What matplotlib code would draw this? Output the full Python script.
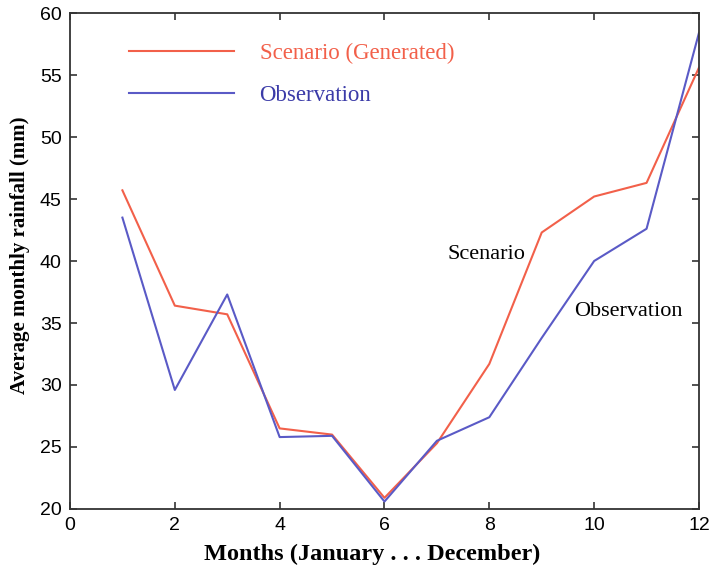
import matplotlib
matplotlib.use("Agg")
import matplotlib.pyplot as plt

months = [1, 2, 3, 4, 5, 6, 7, 8, 9, 10, 11, 12]
scenario = [45.7, 36.4, 35.7, 26.5, 26.0, 20.9, 25.3, 31.7, 42.3, 45.2, 46.3, 55.6]
observation = [43.5, 29.6, 37.3, 25.8, 25.9, 20.6, 25.5, 27.4, 33.8, 40.0, 42.6, 58.4]
xticks = [0, 2, 4, 6, 8, 10, 12]
yticks = [20, 25, 30, 35, 40, 45, 50, 55, 60]

red = '#f2604a'
blue = '#5a5ac6'

fig = plt.figure(figsize=(7.12, 5.73), dpi=100)
ax = fig.add_axes([0.0983, 0.1117, 0.8834, 0.8656])

ax.plot(months, scenario, color=red, lw=1.5, label='Scenario (Generated)')
ax.plot(months, observation, color=blue, lw=1.5, label='Observation')

ax.set_xlim(0, 12)
ax.set_ylim(20, 60)
ax.set_xticks(xticks)
ax.set_yticks(yticks)
ax.tick_params(direction='in', top=True, right=True, length=5, width=1.2,
               labelsize=14, pad=6, color='#333333')
for lab in ax.get_xticklabels() + ax.get_yticklabels():
    lab.set_family(['Liberation Sans', 'DejaVu Sans'])
for s in ax.spines.values():
    s.set_linewidth(1.3)
    s.set_color('#333333')

serif = ['Liberation Serif', 'DejaVu Serif']
ax.set_xlabel('Months (January . . . December)', fontfamily=serif,
              fontweight='bold', fontsize=17.5, labelpad=7)
ax.set_ylabel('Average monthly rainfall (mm)', fontfamily=serif,
              fontweight='bold', fontsize=15, labelpad=7)
ax.xaxis.label.set_x(0.48)
ax.yaxis.label.set_y(0.512)

leg = ax.legend(loc='upper left', bbox_to_anchor=(0.061, 0.981), frameon=False,
                handlelength=4.6, handletextpad=1.1, labelspacing=0.9,
                prop={'family': serif, 'size': 16.5})
for t, c in zip(leg.get_texts(), [red, '#3b3ba8']):
    t.set_color(c)

ax.text(7.2, 40.5, 'Scenario', fontfamily=serif, fontsize=16, color='black',
        va='center', ha='left')
ax.text(9.62, 35.9, 'Observation', fontfamily=serif, fontsize=16, color='black',
        va='center', ha='left')

fig.savefig('out.png', dpi=100)
